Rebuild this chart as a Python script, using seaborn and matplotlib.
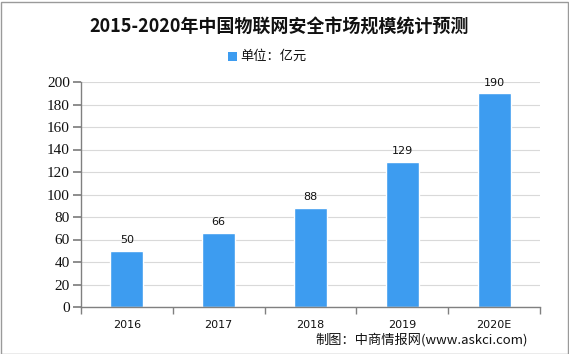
import matplotlib
matplotlib.use("Agg")
import matplotlib.pyplot as plt
import seaborn as sns
import pandas as pd
from matplotlib.patches import Rectangle

categories = ["2016", "2017", "2018", "2019", "2020E"]
values = [50, 66, 88, 129, 190]
yticks = [0, 20, 40, 60, 80, 100, 120, 140, 160, 180, 200]
title = "2015-2020年中国物联网安全市场规模统计预测"
legend_label = "单位：亿元"
source = "制图：中商情报网(www.askci.com)"

sns.set_theme(style="white")
plt.rcParams['font.family'] = ['Noto Sans CJK SC', 'DejaVu Sans']

df = pd.DataFrame({"year": categories, "value": values})
bar_color = "#3D9CF0"

fig = plt.figure(figsize=(5.69, 3.54), dpi=100)
ax = fig.add_axes([81/569, 1-307/354, (540-81)/569, (307-82)/354])
sns.barplot(data=df, x="year", y="value", color=bar_color, width=0.36,
            saturation=1, ax=ax)

ax.set_ylim(0, 200)
ax.set_xlim(-0.5, len(categories)-0.5)
ax.set_yticks(yticks)
ax.set_yticklabels([str(t) for t in yticks], family=['Liberation Serif'], fontsize=11, color="#111111")
ax.set_xlabel("")
ax.set_ylabel("")
ax.yaxis.grid(True, color="#d9d9d9", linewidth=0.8)
ax.set_axisbelow(True)
for s in ["top", "right"]:
    ax.spines[s].set_visible(False)
for s in ["left", "bottom"]:
    ax.spines[s].set_color("#808080")
    ax.spines[s].set_linewidth(1)
ax.tick_params(axis="y", which="both", left=True, length=6, color="#808080", pad=2)
ax.set_xticks(range(len(categories)))
ax.set_xticklabels(categories, fontsize=8, color="#111111", family=['DejaVu Sans'])
ax.tick_params(axis="x", which="major", bottom=False, pad=3)
ax.set_xticks([i - 0.5 for i in range(len(categories)+1)], minor=True)
ax.tick_params(axis="x", which="minor", bottom=True, length=5, color="#808080")

for i, v in enumerate(values):
    ax.text(i, v + 5, str(v), ha="center", va="bottom", fontsize=8, color="#111111",
            family=['DejaVu Sans'])

fig.text(279/569, 1-27/354, title, ha="center", va="center", fontsize=13,
         fontweight="bold", family=['Noto Sans CJK SC', 'DejaVu Sans'], color="#111111")
fig.patches.append(Rectangle((228/569, 1-61/354), 9/569, 9/354, transform=fig.transFigure,
                             facecolor=bar_color, edgecolor="none"))
fig.text(240/569, 1-56/354, legend_label, ha="left", va="center", fontsize=9.5, color="#111111")
fig.text(528/569, 1-340/354, source, ha="right", va="center", fontsize=9.5, color="#111111")

fig.patches.append(Rectangle((0.5/569, 0.5/354), 567/569, 352/354, transform=fig.transFigure,
                             facecolor="none", edgecolor="#9a9a9a", linewidth=1))

fig.savefig("out.png", dpi=100)
